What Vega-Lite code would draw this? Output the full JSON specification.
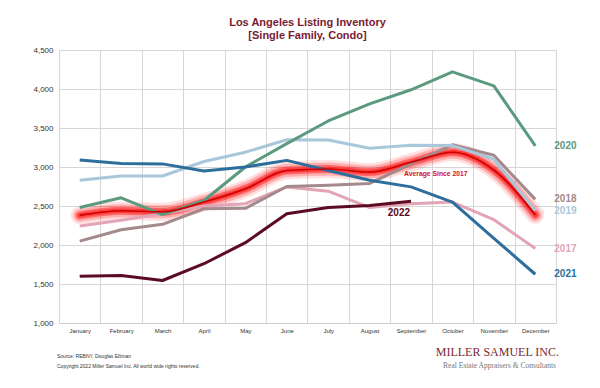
{
  "$schema": "https://vega.github.io/schema/vega-lite/v6.json",
  "width": 497,
  "height": 273,
  "autosize": {"type": "none"},
  "padding": {"left": 59, "top": 50, "right": 44, "bottom": 65},
  "background": "white",
  "config": {
    "font": "Liberation Sans",
    "view": {"stroke": "#d6d6d6"},
    "title": {"font": "Liberation Sans", "fontSize": 11, "fontWeight": "bold", "color": "#7a1a30", "lineHeight": 13, "offset": 5, "anchor": "middle"}
  },
  "title": {"text": ["Los Angeles Listing Inventory", "[Single Family, Condo]"]},
  "datasets": {
    "series": [
      {"year": "2017", "month": "January", "value": 2245}, {"year": "2017", "month": "February", "value": 2317}, {"year": "2017", "month": "March", "value": 2400}, {"year": "2017", "month": "April", "value": 2500}, {"year": "2017", "month": "May", "value": 2530}, {"year": "2017", "month": "June", "value": 2745}, {"year": "2017", "month": "July", "value": 2690}, {"year": "2017", "month": "August", "value": 2480}, {"year": "2017", "month": "September", "value": 2530}, {"year": "2017", "month": "October", "value": 2550}, {"year": "2017", "month": "November", "value": 2325}, {"year": "2017", "month": "December", "value": 1955},
      {"year": "2018", "month": "January", "value": 2050}, {"year": "2018", "month": "February", "value": 2195}, {"year": "2018", "month": "March", "value": 2265}, {"year": "2018", "month": "April", "value": 2465}, {"year": "2018", "month": "May", "value": 2470}, {"year": "2018", "month": "June", "value": 2750}, {"year": "2018", "month": "July", "value": 2765}, {"year": "2018", "month": "August", "value": 2790}, {"year": "2018", "month": "September", "value": 3040}, {"year": "2018", "month": "October", "value": 3285}, {"year": "2018", "month": "November", "value": 3150}, {"year": "2018", "month": "December", "value": 2585},
      {"year": "2019", "month": "January", "value": 2830}, {"year": "2019", "month": "February", "value": 2885}, {"year": "2019", "month": "March", "value": 2885}, {"year": "2019", "month": "April", "value": 3070}, {"year": "2019", "month": "May", "value": 3190}, {"year": "2019", "month": "June", "value": 3350}, {"year": "2019", "month": "July", "value": 3345}, {"year": "2019", "month": "August", "value": 3240}, {"year": "2019", "month": "September", "value": 3280}, {"year": "2019", "month": "October", "value": 3275}, {"year": "2019", "month": "November", "value": 3100}, {"year": "2019", "month": "December", "value": 2440},
      {"year": "2020", "month": "January", "value": 2480}, {"year": "2020", "month": "February", "value": 2605}, {"year": "2020", "month": "March", "value": 2390}, {"year": "2020", "month": "April", "value": 2570}, {"year": "2020", "month": "May", "value": 3000}, {"year": "2020", "month": "June", "value": 3300}, {"year": "2020", "month": "July", "value": 3590}, {"year": "2020", "month": "August", "value": 3810}, {"year": "2020", "month": "September", "value": 3990}, {"year": "2020", "month": "October", "value": 4220}, {"year": "2020", "month": "November", "value": 4040}, {"year": "2020", "month": "December", "value": 3270},
      {"year": "2021", "month": "January", "value": 3090}, {"year": "2021", "month": "February", "value": 3045}, {"year": "2021", "month": "March", "value": 3040}, {"year": "2021", "month": "April", "value": 2950}, {"year": "2021", "month": "May", "value": 3000}, {"year": "2021", "month": "June", "value": 3085}, {"year": "2021", "month": "July", "value": 2955}, {"year": "2021", "month": "August", "value": 2830}, {"year": "2021", "month": "September", "value": 2745}, {"year": "2021", "month": "October", "value": 2550}, {"year": "2021", "month": "November", "value": 2085}, {"year": "2021", "month": "December", "value": 1625},
      {"year": "2022", "month": "January", "value": 1600}, {"year": "2022", "month": "February", "value": 1610}, {"year": "2022", "month": "March", "value": 1545}, {"year": "2022", "month": "April", "value": 1760}, {"year": "2022", "month": "May", "value": 2030}, {"year": "2022", "month": "June", "value": 2400}, {"year": "2022", "month": "July", "value": 2480}, {"year": "2022", "month": "August", "value": 2505}, {"year": "2022", "month": "September", "value": 2560}
    ],
    "average": [
      {"month": "January", "value": 2380}, {"month": "February", "value": 2440}, {"month": "March", "value": 2425}, {"month": "April", "value": 2550}, {"month": "May", "value": 2720}, {"month": "June", "value": 2955}, {"month": "July", "value": 2975}, {"month": "August", "value": 2935}, {"month": "September", "value": 3060}, {"month": "October", "value": 3190}, {"month": "November", "value": 2960}, {"month": "December", "value": 2385}
    ],
    "footer": [
      {"role": "source", "text": "Source: REBNY, Douglas Elliman"},
      {"role": "copyright", "text": "Copyright 2022 Miller Samuel Inc.  All world wide rights reserved."},
      {"role": "logo", "text": "MILLER SAMUEL INC."},
      {"role": "tagline", "text": "Real Estate Appraisers & Consultants"}
    ]
  },
  "layer": [
    {
      "encoding": {
        "x": {
          "field": "month", "type": "ordinal", "bandPosition": 0.5,
          "sort": ["January", "February", "March", "April", "May", "June", "July", "August", "September", "October", "November", "December"],
          "scale": {"type": "band", "paddingInner": 0, "paddingOuter": 0},
          "axis": {"title": null, "labelAngle": 0, "labelFontSize": 6, "labelColor": "#333333", "labelPadding": 4, "ticks": false, "domainColor": "#cccccc", "grid": true, "tickBand": "extent", "gridColor": "#d6d6d6"}
        },
        "y": {
          "field": "value", "type": "quantitative",
          "scale": {"domain": [1000, 4500], "nice": false, "zero": false},
          "axis": {"title": null, "values": [1000, 1500, 2000, 2500, 3000, 3500, 4000, 4500], "format": ",.0f", "labelFontSize": 8, "labelColor": "#333333", "labelPadding": 6, "ticks": false, "domain": false, "gridColor": "#d6d6d6"}
        }
      },
      "layer": [
        {"data": {"name": "average"}, "mark": {"type": "line", "interpolate": "monotone", "color": "#ff0000", "strokeWidth": 18, "opacity": 0.12, "strokeCap": "round", "strokeJoin": "round"}},
        {"data": {"name": "average"}, "mark": {"type": "line", "interpolate": "monotone", "color": "#ff0000", "strokeWidth": 13, "opacity": 0.22, "strokeCap": "round", "strokeJoin": "round"}},
        {"data": {"name": "average"}, "mark": {"type": "line", "interpolate": "monotone", "color": "#ff1010", "strokeWidth": 8, "opacity": 0.45, "strokeCap": "round", "strokeJoin": "round"}},
        {"data": {"name": "average"}, "mark": {"type": "line", "interpolate": "monotone", "color": "#ff2020", "strokeWidth": 4.5, "opacity": 0.6, "strokeCap": "round", "strokeJoin": "round"}},
        {
          "data": {"name": "series"},
          "mark": {"type": "line", "strokeWidth": 3, "strokeJoin": "round"},
          "encoding": {
            "color": {"field": "year", "type": "nominal", "legend": null,
              "scale": {"domain": ["2017", "2018", "2019", "2020", "2021", "2022"], "range": ["#e2a4b6", "#a48a8c", "#a9c7da", "#5c9a80", "#2e6e9c", "#5c0c22"]}}
          }
        },
        {"data": {"name": "average"}, "mark": {"type": "line", "interpolate": "monotone", "color": "#cc0000", "strokeWidth": 1.6}},
        {
          "data": {"name": "series"},
          "transform": [{"filter": "datum.month === 'December'"}],
          "mark": {"type": "text", "align": "left", "baseline": "middle", "dx": 19, "fontSize": 10, "fontWeight": "bold"},
          "encoding": {
            "text": {"field": "year"},
            "color": {"field": "year", "type": "nominal", "legend": null}
          }
        },
        {
          "data": {"name": "series"},
          "transform": [{"filter": "datum.year === '2022' && datum.month === 'September'"}],
          "mark": {"type": "text", "align": "right", "baseline": "middle", "dx": -1, "dy": 12, "fontSize": 10, "fontWeight": "bold", "color": "#5c0c22"},
          "encoding": {"text": {"field": "year"}}
        },
        {
          "data": {"name": "average"},
          "transform": [{"filter": "datum.month === 'September'"}],
          "mark": {"type": "text", "align": "left", "baseline": "middle", "dx": -7, "dy": 12, "fontSize": 6.8, "fontWeight": "bold", "color": "#d0102a"},
          "encoding": {"text": {"value": "Average  Since 2017"}}
        }
      ]
    },
    {
      "data": {"name": "footer"},
      "transform": [{"filter": "datum.role === 'source'"}],
      "mark": {"type": "text", "align": "left", "baseline": "middle", "dx": -2, "fontSize": 5, "color": "#333333"},
      "encoding": {"text": {"field": "text"}, "x": {"datum": "January", "bandPosition": 0}, "y": {"datum": 577, "axis": {"title": null, "values": [1000, 1500, 2000, 2500, 3000, 3500, 4000, 4500], "format": ",.0f", "labelFontSize": 8, "labelColor": "#333333", "labelPadding": 6, "ticks": false, "domain": false, "gridColor": "#d6d6d6"}}}
    },
    {
      "data": {"name": "footer"},
      "transform": [{"filter": "datum.role === 'copyright'"}],
      "mark": {"type": "text", "align": "left", "baseline": "middle", "dx": -2, "fontSize": 5, "color": "#333333"},
      "encoding": {"text": {"field": "text"}, "x": {"datum": "January", "bandPosition": 0}, "y": {"datum": 449, "axis": {"title": null, "values": [1000, 1500, 2000, 2500, 3000, 3500, 4000, 4500], "format": ",.0f", "labelFontSize": 8, "labelColor": "#333333", "labelPadding": 6, "ticks": false, "domain": false, "gridColor": "#d6d6d6"}}}
    },
    {
      "data": {"name": "footer"},
      "transform": [{"filter": "datum.role === 'logo'"}],
      "mark": {"type": "text", "align": "right", "baseline": "middle", "dx": 3, "fontSize": 12, "font": "Liberation Serif", "color": "#7a2a32"},
      "encoding": {"text": {"field": "text"}, "x": {"datum": "December", "bandPosition": 1}, "y": {"datum": 628, "axis": {"title": null, "values": [1000, 1500, 2000, 2500, 3000, 3500, 4000, 4500], "format": ",.0f", "labelFontSize": 8, "labelColor": "#333333", "labelPadding": 6, "ticks": false, "domain": false, "gridColor": "#d6d6d6"}}}
    },
    {
      "data": {"name": "footer"},
      "transform": [{"filter": "datum.role === 'tagline'"}],
      "mark": {"type": "text", "align": "right", "baseline": "middle", "dx": 0, "fontSize": 7.5, "font": "Liberation Serif", "color": "#777777"},
      "encoding": {"text": {"field": "text"}, "x": {"datum": "December", "bandPosition": 1}, "y": {"datum": 449, "axis": {"title": null, "values": [1000, 1500, 2000, 2500, 3000, 3500, 4000, 4500], "format": ",.0f", "labelFontSize": 8, "labelColor": "#333333", "labelPadding": 6, "ticks": false, "domain": false, "gridColor": "#d6d6d6"}}}
    }
  ]
}
